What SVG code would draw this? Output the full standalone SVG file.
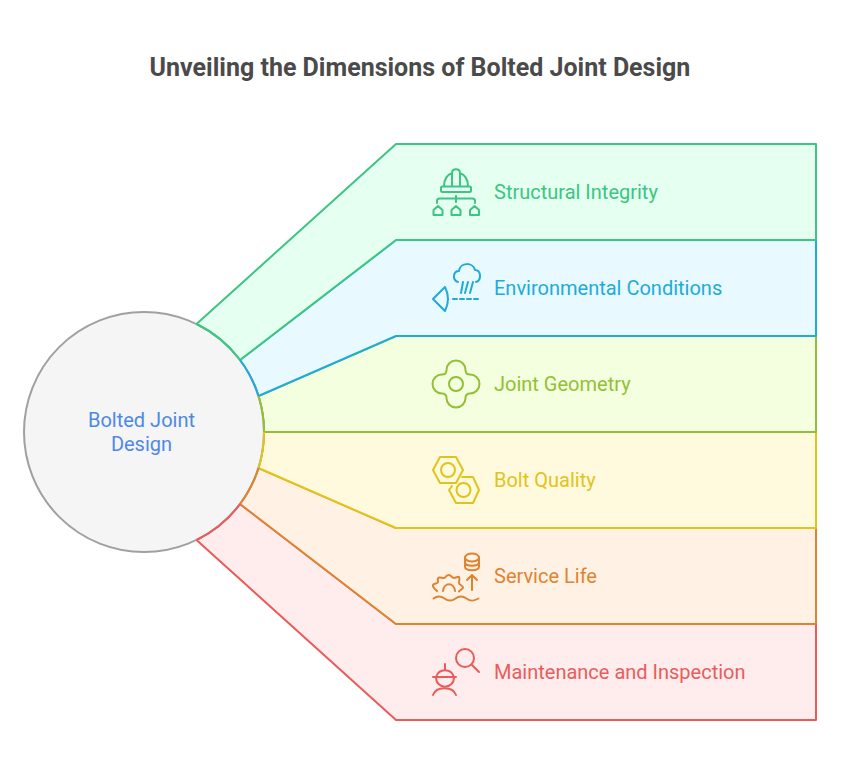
<svg xmlns="http://www.w3.org/2000/svg" width="841" height="768" viewBox="0 0 841 768">
<style>
text{font-family:Roboto,"Liberation Sans",sans-serif}
.t{font-size:25px;font-weight:700;fill:#4a4a4a}
.l{font-size:20px}
.c{font-size:20px;fill:#4e88e7;text-anchor:middle}
.i{fill:none;stroke-width:2;stroke-linecap:round;stroke-linejoin:round}
.s{stroke-width:2;stroke-linejoin:round}
.arc{fill:none;stroke-width:2}
.g{stroke:#3cc583}.b{stroke:#1eabda}.o{stroke:#93bf35}.y{stroke:#e0c41a}.r{stroke:#de8431}.e{stroke:#e85c5c}
</style>
<rect width="841" height="768" fill="#ffffff"/>
<text class="t" x="420" y="75.500" text-anchor="middle">Unveiling the Dimensions of Bolted Joint Design</text>
<g id="maintenance">
<path class="s e" fill="#ffecec" d="M196.500 540 L396 720 H816 V624 H396 L240 504 A120 120 0 0 1 196.500 540Z"/>
<g class="i e"><circle cx="465" cy="658" r="9"/><path d="M471.500 664.500L479 672M445 664v6M433 677h23"/><path d="M436 677a9.500 10 0 0 1 18 0M436 677c0 13 18 13 18 0"/><path d="M433 695c3-9 20-9 23 0"/></g>
<text class="l" x="494" y="679" fill="#e85c5c">Maintenance and Inspection</text>
</g>
<g id="service-life">
<path class="s r" fill="#fff1e3" d="M240 504 L396 624 H816 V528 H396 L258.500 468 A120 120 0 0 1 240 504Z"/>
<g class="i r"><ellipse cx="472" cy="557.500" rx="7" ry="4"/><path d="M465 557.500v9c0 5 14 5 14 0v-9M465 562c0 5 14 5 14 0M472 590v-14M467 580l5-5 5 5M433.500 598.500c4-3 7-3 11 0s7 3 11 0 7-3 11 0 7 3 12 0M437 591c-2-2-5-4-4-6s5-1 5-3-1-4 1-4.500 5 1.500 6 0 2-2.500 4-2.500 3 3 5 3 4-2 5-1 0 4 0 6 4 2.500 4 4.500-3 2-4 4M443 591c1-9 11-9 12 0"/></g>
<text class="l" x="494" y="583" fill="#de8431">Service Life</text>
</g>
<g id="bolt-quality">
<path class="s y" fill="#fff9dd" d="M258.500 468 L396 528 H816 V432 H264 A120 120 0 0 1 258.500 468Z"/>
<g class="i y"><path d="M433 470l7-13h16l7 13-7 13h-16z"/><circle cx="448" cy="470" r="7"/><path d="M462 477h11l6 13-6 13h-17l-7-13 3-4"/><circle cx="463.500" cy="490" r="7"/></g>
<text class="l" x="494" y="487" fill="#e0c41a">Bolt Quality</text>
</g>
<g id="joint-geometry">
<path class="s o" fill="#f3ffde" d="M264 432 H816 V336 H396 L258.500 396 A120 120 0 0 1 264 432Z"/>
<g class="i o"><circle cx="456" cy="384" r="7"/><path d="M446.500 370A9.500 9.500 0 0 1 465.500 370Q465.500 374.500 470 374.500A9.500 9.500 0 0 1 470 393.500Q465.500 393.500 465.500 398A9.500 9.500 0 0 1 446.500 398Q446.500 393.500 442 393.500A9.500 9.500 0 0 1 442 374.500Q446.500 374.500 446.500 370Z"/></g>
<text class="l" x="494" y="391" fill="#93bf35">Joint Geometry</text>
</g>
<g id="environmental-conditions">
<path class="s b" fill="#e8f9ff" d="M258.500 396 L396 336 H816 V240 H396 L240 360 A120 120 0 0 1 258.500 396Z"/>
<g class="i b"><path d="M445 287l-12 12 12 12c4-8 4-16 0-24zM453 299h4M460 299h4M467 299h4M474 299h4M458 282C452 280 453 271 459 271 460 262 473 262 475 270 481 270 482 280 476 282M463 282l-2 11M468 282l-3 11M473 282l-3 11"/></g>
<text class="l" x="494" y="295" fill="#1eabda">Environmental Conditions</text>
</g>
<g id="structural-integrity">
<path class="s g" fill="#e5fff0" d="M240 360 L396 240 H816 V144 H396 L196.500 324 A120 120 0 0 1 240 360Z"/>
<g class="i g"><rect x="441" y="186.500" width="30" height="5.500" rx="1.500"/><path d="M444 186c0-6 3-11 8-13M468 186c0-6-3-11-8-13M452 186v-13c0-5 8-5 8 0v13M437 203v-2c0-1.500 1-2.500 2.500-2.500h33c1.500 0 2.500 1 2.500 2.500v2M456 196v6M433.500 215v-5l4.500-4 4.500 4v5zM451.500 215v-5l4.500-4 4.500 4v5zM470 215v-5l4.500-4 4.500 4v5z"/></g>
<text class="l" x="494" y="199" fill="#3cc583">Structural Integrity</text>
</g>
<g id="center">
<circle cx="144" cy="432" r="120" fill="#f5f5f5" stroke="#a0a0a0" stroke-width="2"/>
<path class="arc g" d="M196.500 324A120 120 0 0 1 240 360"/>
<path class="arc b" d="M240 360A120 120 0 0 1 258.500 396"/>
<path class="arc o" d="M258.500 396A120 120 0 0 1 264 432"/>
<path class="arc y" d="M264 432A120 120 0 0 1 258.500 468"/>
<path class="arc r" d="M258.500 468A120 120 0 0 1 240 504"/>
<path class="arc e" d="M240 504A120 120 0 0 1 196.500 540"/>
<text class="c" x="141.500" y="427">Bolted Joint</text>
<text class="c" x="141.500" y="451">Design</text>
</g>
<g id="connectors"></g>
</svg>
